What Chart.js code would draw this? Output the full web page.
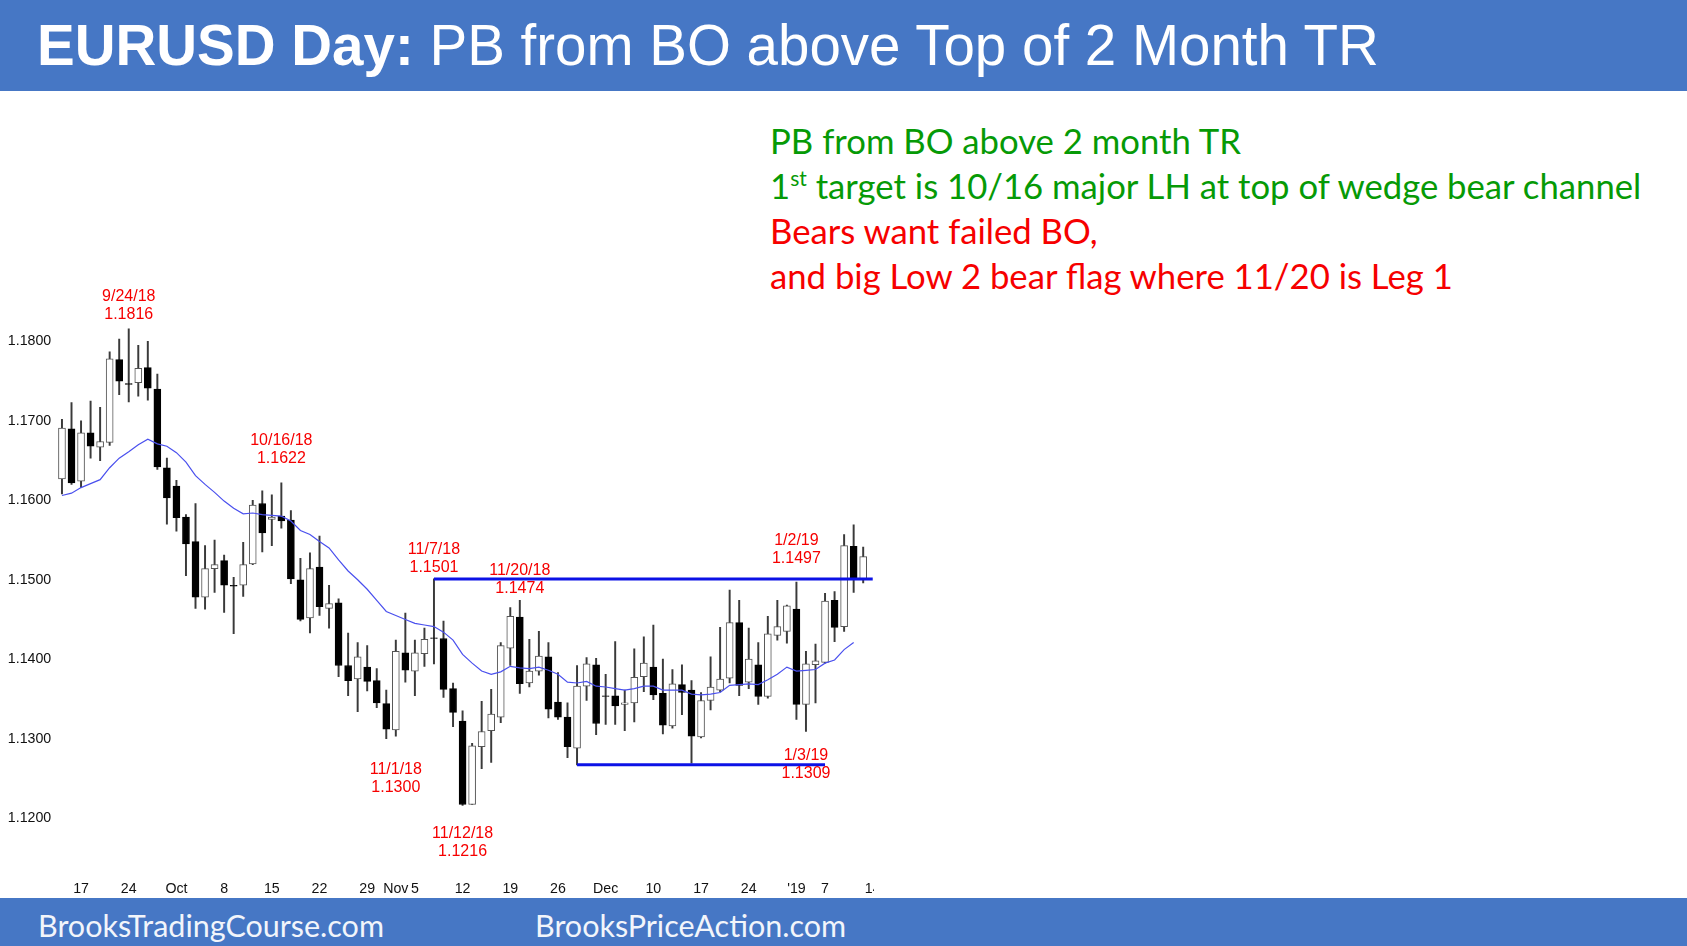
<!DOCTYPE html>
<html>
<head>
<meta charset="utf-8">
<title>EURUSD Day</title>
<script src="https://cdn.jsdelivr.net/npm/chart.js"></script>
<style>
  html, body { margin: 0; padding: 0; background: #fff; }
  #page { position: relative; width: 1687px; height: 946px; overflow: hidden; }
  .band { position: absolute; left: 0; width: 1687px; background: #4677c5; color: #fff; }
  #header { top: 0; height: 91px; }
  #title { position: absolute; left: 37px; top: 13px; font: 56.5px/66px "Liberation Sans", Arial, sans-serif; white-space: nowrap; }
  #title b { font-weight: bold; }
  #footer { top: 898px; height: 48px; font: 30.5px/54px Lato, sans-serif; color: #f2f5fb; }
  #footer span { position: absolute; top: 0; white-space: nowrap; }
  #notes { position: absolute; left: 770px; top: 118px; font: 34.7px/45px Lato, sans-serif; white-space: nowrap; }
  #notes sup { font-size: 21px; line-height: 0; }
  .green { color: #069a06; }
  .red { color: #f60000; }
  #chartBox { position: absolute; left: 0; top: 90px; width: 874px; height: 808px; overflow: hidden; }
</style>
</head>
<body>
<div id="page">
  <div id="header" class="band"><div id="title"><b>EURUSD Day:</b> PB from BO above Top of 2 Month TR</div></div>
  <div id="notes">
    <div class="green">PB from BO above 2 month TR</div>
    <div class="green">1<sup>st</sup> target is 10/16 major LH at top of wedge bear channel</div>
    <div class="red">Bears want failed BO,</div>
    <div class="red">and big Low 2 bear flag where 11/20 is Leg 1</div>
  </div>
  <div id="chartBox"><canvas id="priceChart" width="880" height="808"></canvas></div>
  <div id="footer" class="band"><span style="left:38px">BrooksTradingCourse.com</span><span style="left:535px">BrooksPriceAction.com</span></div>
</div>
<script>
const days = ['9/13','9/14','9/17','9/18','9/19','9/20','9/21','9/24','9/25','9/26','9/27','9/28',
  '10/1','10/2','10/3','10/4','10/5','10/8','10/9','10/10','10/11','10/12','10/15','10/16','10/17','10/18','10/19',
  '10/22','10/23','10/24','10/25','10/26','10/29','10/30','10/31','11/1','11/2','11/5','11/6','11/7','11/8','11/9',
  '11/12','11/13','11/14','11/15','11/16','11/19','11/20','11/21','11/22','11/23','11/26','11/27','11/28','11/29','11/30',
  '12/3','12/4','12/5','12/6','12/7','12/10','12/11','12/12','12/13','12/14','12/17','12/18','12/19','12/20','12/21',
  '12/24','12/26','12/27','12/28','12/31','1/2','1/3','1/4','1/7','1/8','1/9','1/10','1/11','1/14'];

const opens = [1.1627,1.1690,1.1624,1.1685,1.1667,1.1673,1.1777,1.1747,1.1748,1.1767,1.1740,1.1641,1.1618,1.1579,1.1548,1.1478,1.1514,1.1524,1.1493,1.1493,1.1520,1.1596,1.1576,1.1580,1.1575,
  1.1500,1.1452,1.1516,1.1464,1.1471,1.1392,1.1375,1.1390,1.1373,1.1344,1.1311,1.1408,1.1385,1.1407,1.1427,1.1426,1.1363,1.1322,1.1217,1.1290,1.1310,1.1327,1.1414,1.1453,1.1370,1.1385,1.1403,1.1346,1.1327,1.1288,
  1.1366,1.1393,1.1354,1.1354,1.1343,1.1345,1.1378,1.1390,1.1357,1.1316,1.1368,1.1361,1.1302,1.1348,1.1361,1.1376,1.1446,1.1371,1.1393,1.1353,1.1430,1.1435,1.1463,1.1343,1.1393,1.1396,1.1474,1.1441,1.1542,1.1501];
const closes = [1.1691,1.1622,1.1685,1.1668,1.1674,1.1778,1.1750,1.1746,1.1766,1.1741,1.1642,1.1603,1.1578,1.1545,1.1478,1.1514,1.1519,1.1493,1.1492,1.1519,1.1594,1.1559,1.1579,1.1574,1.1501,
  1.1450,1.1514,1.1466,1.1470,1.1392,1.1373,1.1403,1.1372,1.1345,1.1312,1.1410,1.1386,1.1408,1.1425,1.1426,1.1362,1.1333,1.1217,1.1291,1.1309,1.1331,1.1417,1.1454,1.1369,1.1385,1.1404,1.1337,1.1327,1.1290,1.1366,
  1.1394,1.1319,1.1353,1.1341,1.1345,1.1377,1.1395,1.1355,1.1317,1.1369,1.1358,1.1303,1.1348,1.1365,1.1375,1.1446,1.1367,1.1400,1.1353,1.1432,1.1441,1.1467,1.1343,1.1394,1.1398,1.1473,1.1440,1.1543,1.1502,1.1529];
const highs = [1.1702,1.1723,1.1700,1.1725,1.1717,1.1787,1.1803,1.1816,1.1795,1.1800,1.1759,1.1653,1.1625,1.1582,1.1596,1.1543,1.1550,1.1531,1.1503,1.1547,1.1600,1.1612,1.1607,1.1622,1.1587,
  1.1527,1.1534,1.1555,1.1493,1.1476,1.1433,1.1421,1.1417,1.1388,1.1361,1.1424,1.1458,1.1424,1.1439,1.1501,1.1448,1.1370,1.1335,1.1294,1.1347,1.1362,1.1421,1.1465,1.1474,1.1425,1.1435,1.1421,1.1383,1.1345,1.1392,
  1.1402,1.1401,1.1381,1.1422,1.1361,1.1413,1.1428,1.1443,1.1400,1.1387,1.1393,1.1373,1.1358,1.1403,1.1440,1.1487,1.1474,1.1439,1.1421,1.1454,1.1474,1.1468,1.1497,1.1410,1.1419,1.1483,1.1485,1.1557,1.1569,1.1541];
const lows = [1.1608,1.1620,1.1616,1.1653,1.1650,1.1669,1.1733,1.1724,1.1731,1.1726,1.1639,1.1570,1.1561,1.1505,1.1464,1.1463,1.1484,1.1459,1.1432,1.1479,1.1519,1.1535,1.1543,1.1565,1.1495,
  1.1448,1.1433,1.1455,1.1439,1.1378,1.1354,1.1334,1.1360,1.1339,1.1300,1.1303,1.1371,1.1354,1.1391,1.1394,1.1352,1.1315,1.1216,1.1217,1.1262,1.1270,1.1320,1.1392,1.1357,1.1365,1.1380,1.1326,1.1324,1.1276,1.1267,
  1.1348,1.1305,1.1318,1.1318,1.1310,1.1321,1.1359,1.1349,1.1306,1.1313,1.1330,1.1269,1.1301,1.1336,1.1359,1.1370,1.1354,1.1363,1.1343,1.1351,1.1424,1.1420,1.1324,1.1309,1.1345,1.1395,1.1422,1.1435,1.1484,1.1496];

const ema = [1.1606,1.1609,1.1616,1.1621,1.1626,1.1641,1.1653,1.1661,1.1670,1.1677,1.1671,1.1668,1.1660,1.1648,1.1631,1.1620,1.1610,1.1599,1.1590,1.1583,1.1584,1.1582,1.1581,1.1580,1.1574,
  1.1562,1.1557,1.1548,1.1540,1.1525,1.1511,1.1500,1.1488,1.1474,1.1460,1.1455,1.1450,1.1445,1.1443,1.1441,1.1434,1.1424,1.1406,1.1395,1.1385,1.1381,1.1384,1.1391,1.1389,1.1388,1.1390,1.1386,1.1381,1.1371,1.1370,
  1.1372,1.1366,1.1365,1.1363,1.1361,1.1363,1.1366,1.1366,1.1361,1.1361,1.1361,1.1356,1.1355,1.1356,1.1358,1.1367,1.1368,1.1369,1.1368,1.1374,1.1381,1.1390,1.1385,1.1386,1.1387,1.1395,1.1399,1.1412,1.1421];

const rangeTopDays = ['11/7', '1/14'];
const rangeTopPrice = [1.1501, 1.1501];
const rangeBottomDays = ['11/28', '1/7'];
const rangeBottomPrice = [1.1267, 1.1267];

const tickDays = ['9/17','9/24','10/1','10/8','10/15','10/22','10/29','11/1','11/5','11/12','11/19','11/26','12/3','12/10','12/17','12/24','1/2','1/7','1/14'];
const tickTexts = ['17','24','Oct','8','15','22','29','Nov','5','12','19','26','Dec','10','17','24',"'19",'7','14'];
const priceTicks = [1.12, 1.13, 1.14, 1.15, 1.16, 1.17, 1.18];

const noteDays = ['9/24','10/16','11/7','11/20','11/1','11/12','1/2','1/3'];
const noteDates = ['9/24/18','10/16/18','11/7/18','11/20/18','11/1/18','11/12/18','1/2/19','1/3/19'];
const notePrices = ['1.1816','1.1622','1.1501','1.1474','1.1300','1.1216','1.1497','1.1309'];
const noteLevels = [1.18576,1.16762,1.15389,1.15125,1.12618,1.11812,1.15503,1.12794];

const isUp = opens.map((o, i) => closes[i] >= o);

// red date / price notes, placed from the chart scales
const notesPlugin = {
  id: 'notes',
  afterDatasetsDraw(chart) {
    const ctx = chart.ctx;
    ctx.save();
    ctx.fillStyle = '#f60000';
    ctx.font = '16px "Liberation Sans", Arial, sans-serif';
    ctx.textAlign = 'center';
    ctx.textBaseline = 'middle';
    noteDays.forEach((d, i) => {
      const x = chart.scales.x.getPixelForValue(days.indexOf(d));
      const y = chart.scales.y.getPixelForValue(noteLevels[i]) + 1;
      ctx.fillText(noteDates[i], x, y);
      ctx.fillText(notePrices[i], x, y + 18);
    });
    ctx.restore();
  }
};

new Chart(document.getElementById('priceChart'), {
  type: 'bar',
  data: {
    labels: days,
    datasets: [
      {
        label: 'Range',
        data: days.slice(0, highs.length).map((d, i) => [lows[i], highs[i]]),
        backgroundColor: '#3a3a3a',
        barThickness: 1.3,
        grouped: false,
        order: 5
      },
      {
        label: 'Body',
        data: days.slice(0, opens.length).map((d, i) => [opens[i], closes[i]]),
        backgroundColor: isUp.map(u => u ? '#ffffff' : '#000000'),
        borderColor: isUp.map(u => u ? '#555555' : '#000000'),
        borderWidth: 1,
        borderSkipped: false,
        barThickness: 7,
        grouped: false,
        order: 4
      },
      {
        type: 'line',
        label: 'EMA',
        data: ema,
        borderColor: '#4a50ee',
        borderWidth: 1.2,
        pointRadius: 0,
        tension: 0,
        order: 3
      },
      {
        type: 'line',
        label: 'Range top',
        data: rangeTopDays.map((d, i) => ({ x: d, y: rangeTopPrice[i] })),
        borderColor: '#0c12e6',
        borderWidth: 3,
        pointRadius: 0,
        order: 2
      },
      {
        type: 'line',
        label: 'Range bottom',
        data: rangeBottomDays.map((d, i) => ({ x: d, y: rangeBottomPrice[i] })),
        borderColor: '#0c12e6',
        borderWidth: 3,
        pointRadius: 0,
        order: 1
      }
    ]
  },
  options: {
    responsive: false,
    animation: false,
    layout: { padding: { top: 2, right: 2.5, left: 0, bottom: 0 } },
    plugins: { legend: { display: false }, tooltip: { enabled: false } },
    scales: {
      x: {
        type: 'category',
        offset: true,
        grid: { display: false, drawTicks: false },
        border: { display: false },
        afterFit(axis) { axis.height = 18; axis.paddingLeft = 0; axis.paddingRight = 0; },
        ticks: {
          autoSkip: false,
          maxRotation: 0,
          padding: 1,
          color: '#111',
          font: { family: '"Liberation Sans", Arial, sans-serif', size: 14.2 },
          callback(value) {
            const at = tickDays.indexOf(days[value]);
            return at < 0 ? '' : tickTexts[at];
          }
        }
      },
      y: {
        min: 1.1122,
        max: 1.2114,
        grid: { display: false, drawTicks: false },
        border: { display: false },
        afterFit(axis) { axis.width = 57.2; axis.paddingTop = 0; axis.paddingBottom = 0; },
        afterBuildTicks(axis) { axis.ticks = priceTicks.map(v => ({ value: v })); },
        ticks: {
          padding: 6,
          color: '#111',
          font: { family: '"Liberation Sans", Arial, sans-serif', size: 14.2 },
          callback(value) { return Number(value).toFixed(4); }
        }
      }
    }
  },
  plugins: [notesPlugin]
});
</script>
</body>
</html>
